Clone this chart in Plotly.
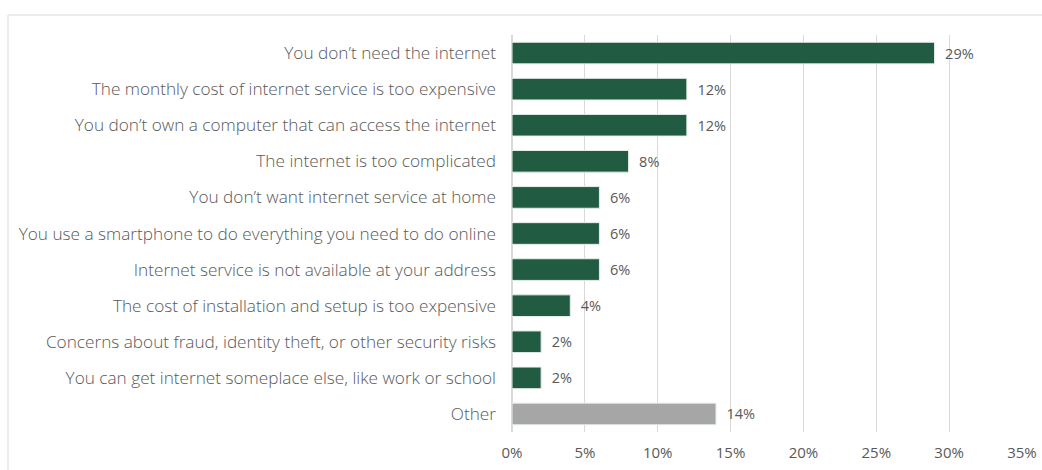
import plotly.graph_objects as go

categories = [
    "You don\u2019t need the internet",
    "The monthly cost of internet service is too expensive",
    "You don\u2019t own a computer that can access the internet",
    "The internet is too complicated",
    "You don\u2019t want internet service at home",
    "You use a smartphone to do everything you need to do online",
    "Internet service is not available at your address",
    "The cost of installation and setup is too expensive",
    "Concerns about fraud, identity theft, or other security risks",
    "You can get internet someplace else, like work or school",
    "Other",
]
values = [29, 12, 12, 8, 6, 6, 6, 4, 2, 2, 14]
bar_colors = ["#215B42"] * 10 + ["#A6A6A6"]
tick_vals = [0, 5, 10, 15, 20, 25, 30, 35]
tick_text = ["0%", "5%", "10%", "15%", "20%", "25%", "30%", "35%"]

label_font = dict(family="Open Sans, sans-serif", size=17.2, color="#595959", weight=300)
number_font = dict(family="Open Sans, sans-serif", size=14.5, color="#595959")
axis_font = dict(family="Open Sans, sans-serif", size=15, color="#595959")

fig = go.Figure(
    go.Bar(
        x=values,
        y=categories,
        orientation="h",
        marker=dict(color=bar_colors, line=dict(color="#E6EEEA", width=1)),
        text=[f"\u00a0\u00a0{v}%" for v in values],
        textposition="outside",
        textfont=number_font,
        cliponaxis=False,
        width=0.6,
    )
)

fig.update_layout(
    width=1042,
    height=470,
    margin=dict(l=512, r=20, t=35, b=38),
    paper_bgcolor="white",
    plot_bgcolor="white",
    showlegend=False,
    xaxis=dict(
        range=[0, 35],
        tickvals=tick_vals,
        ticktext=tick_text,
        showgrid=True,
        gridcolor="#D9D9D9",
        gridwidth=1,
        zeroline=True,
        zerolinecolor="#D9D9D9",
        showline=False,
        tickfont=axis_font,
        ticklabelstandoff=10,
        automargin=False,
    ),
    yaxis=dict(
        autorange="reversed",
        tickfont=label_font,
        ticklabelstandoff=15,
        showgrid=False,
        showline=False,
        automargin=False,
    ),
    shapes=[
        dict(
            type="rect",
            xref="paper",
            yref="paper",
            x0=(8 - 512) / 510,
            x1=(1060 - 512) / 510,
            y0=-0.2,
            y1=(432 - 15) / 397,
            line=dict(color="#D9D9D9", width=1),
            fillcolor="rgba(0,0,0,0)",
            layer="below",
        )
    ],
)

fig.write_html("out.html")
